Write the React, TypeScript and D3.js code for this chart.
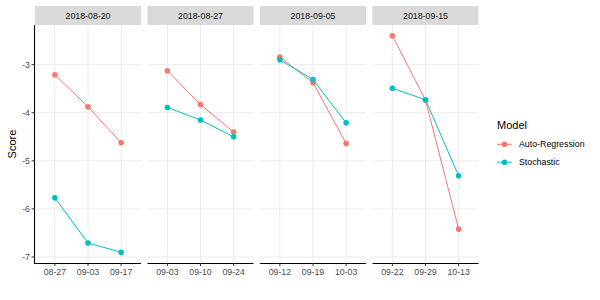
import React from 'react'
import * as d3 from 'd3'

const facets = ['2018-08-20', '2018-08-27', '2018-09-05', '2018-09-15']
const xLabels = [
  ['08-27', '09-03', '09-17'],
  ['09-03', '09-10', '09-24'],
  ['09-12', '09-19', '10-03'],
  ['09-22', '09-29', '10-13'],
]
const autoRegression = [
  [-3.21, -3.875, -4.625],
  [-3.125, -3.83, -4.4],
  [-2.84, -3.375, -4.64],
  [-2.4, -3.74, -6.42],
]
const stochastic = [
  [-5.77, -6.71, -6.9],
  [-3.89, -4.15, -4.5],
  [-2.9, -3.31, -4.21],
  [-3.49, -3.73, -5.31],
]
const yTicks = [-7, -6, -5, -4, -3]
const models = ['Auto-Regression', 'Stochastic']
const colors = ['#F8766D', '#00BFC4']

const W = 600
const H = 300
const panelTop = 25
const panelBottom = 263
const panelLeft0 = 35
const panelW = 106
const gap = 6.5
const font = 'Liberation Sans, Arial, Helvetica, sans-serif'

export default function App() {
  const all = [...autoRegression.flat(), ...stochastic.flat()]
  const [mn, mx] = d3.extent(all) as [number, number]
  const pad = (mx - mn) * 0.05
  const y = d3.scaleLinear().domain([mn - pad, mx + pad]).range([panelBottom, panelTop])
  const line = d3.line<[number, number]>().x(d => d[0]).y(d => d[1])

  return (
    <svg width={W} height={H} style={{ position: 'absolute', left: 0, top: 0 }} fontFamily={font}>
      <rect width={W} height={H} fill="white" />
      {facets.map((f, i) => {
        const left = panelLeft0 + i * (panelW + gap)
        const x = d3.scalePoint<string>().domain(xLabels[i]).range([left, left + panelW]).padding(0.6)
        const series = [autoRegression[i], stochastic[i]]
        return (
          <g key={f}>
            <rect x={left} y={6} width={panelW} height={panelTop - 6} fill="#d9d9d9" />
            <text x={left + panelW / 2} y={18.5} textAnchor="middle" fontSize={8.8} fill="#1a1a1a">{f}</text>
            {yTicks.map(t => (
              <line key={t} x1={left} x2={left + panelW} y1={y(t)} y2={y(t)} stroke="#ebebeb" strokeWidth={1} />
            ))}
            {xLabels[i].map(l => (
              <line key={l} x1={x(l)} x2={x(l)} y1={panelTop} y2={panelBottom} stroke="#ebebeb" strokeWidth={1} />
            ))}
            {series.map((vals, s) => {
              const pts = vals.map((v, j) => [x(xLabels[i][j]) as number, y(v)] as [number, number])
              return (
                <g key={s}>
                  <path d={line(pts) || ''} fill="none" stroke={colors[s]} strokeWidth={1} />
                  {pts.map((p, j) => (
                    <circle key={j} cx={p[0]} cy={p[1]} r={2.8} fill={colors[s]} />
                  ))}
                </g>
              )
            })}
            <line x1={left} x2={left + panelW} y1={panelBottom + 0.5} y2={panelBottom + 0.5} stroke="black" strokeWidth={1.1} />
            {xLabels[i].map(l => (
              <g key={l}>
                <line x1={x(l)} x2={x(l)} y1={panelBottom} y2={panelBottom + 3} stroke="#333" strokeWidth={1} />
                <text x={x(l)} y={panelBottom + 12} textAnchor="middle" fontSize={8.8} fill="#4d4d4d">{l}</text>
              </g>
            ))}
          </g>
        )
      })}
      <line x1={panelLeft0 - 0.5} x2={panelLeft0 - 0.5} y1={panelTop} y2={panelBottom + 1} stroke="black" strokeWidth={1.1} />
      {yTicks.map(t => (
        <g key={t}>
          <line x1={panelLeft0 - 3.5} x2={panelLeft0} y1={y(t)} y2={y(t)} stroke="#333" strokeWidth={1} />
          <text x={panelLeft0 - 5} y={y(t) + 3} textAnchor="end" fontSize={8.8} fill="#4d4d4d">{t < 0 ? '-' + Math.abs(t) : t}</text>
        </g>
      ))}
      <text transform={`translate(15.5,${(panelTop + panelBottom) / 2}) rotate(-90)`} textAnchor="middle" fontSize={11} fill="black">Score</text>
      <text x={497} y={129} fontSize={11} fill="black">Model</text>
      {models.map((m, i) => {
        const cy = 144.3 + i * 17.9
        return (
          <g key={m}>
            <line x1={497} x2={512} y1={cy} y2={cy} stroke={colors[i]} strokeWidth={1} />
            <circle cx={504.5} cy={cy} r={2.8} fill={colors[i]} />
            <text x={519} y={cy + 3} fontSize={8.8} fill="black">{m}</text>
          </g>
        )
      })}
    </svg>
  )
}
